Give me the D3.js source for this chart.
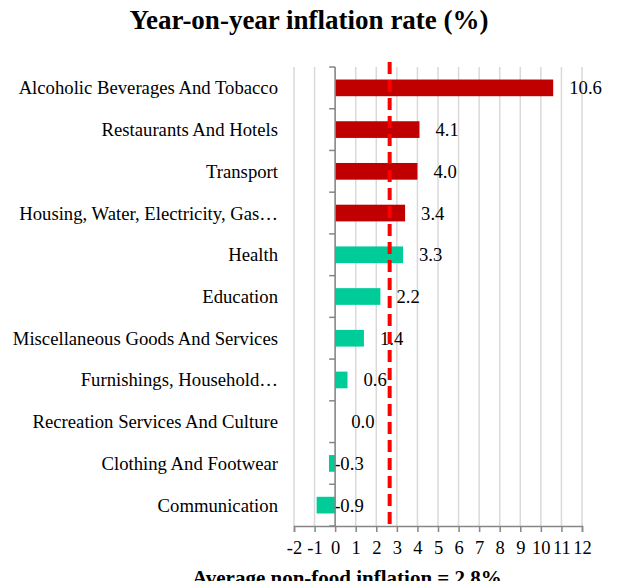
<!DOCTYPE html>
<html>
<head>
<meta charset="utf-8">
<script src="https://cdn.jsdelivr.net/npm/d3@7"></script>
<style>
  body { margin: 0; background: #fff; }
  svg text { font-family: 'Liberation Serif', 'Times New Roman', serif; }
</style>
</head>
<body>
<div id="app"></div>
<script>
// Data
const categories = [
  'Alcoholic Beverages And Tobacco',
  'Restaurants And Hotels',
  'Transport',
  'Housing, Water, Electricity, Gas\u2026',
  'Health',
  'Education',
  'Miscellaneous Goods And Services',
  'Furnishings, Household\u2026',
  'Recreation Services And Culture',
  'Clothing And Footwear',
  'Communication',
];
const values = [10.6, 4.1, 4.0, 3.4, 3.3, 2.2, 1.4, 0.6, 0.0, -0.3, -0.9];
const groups = ['high', 'high', 'high', 'high', 'low', 'low', 'low', 'low', 'low', 'low', 'low'];
const xTicks = [-2, -1, 0, 1, 2, 3, 4, 5, 6, 7, 8, 9, 10, 11, 12];
const averageLine = 2.65; // where the dashed line sits in the picture
const averageLabel = 'Average non-food inflation = 2.8%';

// Constants
const width = 617;
const height = 581;
const margin = ({
  top: 67,
  right: 35,
  bottom: 55,
  left: 294,
});
const plotHeight = height - margin.top - margin.bottom;
const serif = "'Liberation Serif', 'Times New Roman', serif";
const labelSize = '18.7px';

const svg = d3.select('#app')
  .append('svg')
  .attr('width', width)
  .attr('height', height);

const plot = svg.append('g')
  .attr('transform', `translate(${margin.left}, ${margin.top})`);

const xScale = d3.scaleLinear()
  .domain([-2, 12])
  .range([0, 288]);

const yScale = d3.scaleBand()
  .domain(categories)
  .range([0, plotHeight])
  .paddingInner(0.6)
  .paddingOuter(0.3);

const color = d3.scaleOrdinal()
  .domain(['high', 'low'])
  .range(['#C00000', '#00CC99']);

// Gridlines
plot.append('g')
  .selectAll('line')
  .data(xTicks)
  .join('line')
  .attr('x1', (d) => xScale(d))
  .attr('x2', (d) => xScale(d))
  .attr('y1', 0)
  .attr('y2', plotHeight)
  .attr('stroke', '#d9d9d9')
  .attr('stroke-width', 1.5);

// Bars
plot.append('g')
  .selectAll('rect')
  .data(values)
  .join('rect')
  .attr('x', (d) => xScale(Math.min(0, d)))
  .attr('y', (d, i) => yScale(categories[i]))
  .attr('width', (d) => Math.abs(xScale(d) - xScale(0)))
  .attr('height', yScale.bandwidth())
  .attr('fill', (d, i) => color(groups[i]));

// Value labels
plot.append('g')
  .selectAll('text')
  .data(values)
  .join('text')
  .attr('x', (d) => (d < 0 ? xScale(0) - 1 : xScale(d) + 16))
  .attr('y', (d, i) => yScale(categories[i]) + yScale.bandwidth() / 2)
  .attr('dy', '0.35em')
  .style('font-size', labelSize)
  .attr('fill', '#000')
  .text((d) => d.toFixed(1));

// X axis
const xAxis = d3.axisBottom(xScale)
  .tickValues(xTicks)
  .tickSize(6)
  .tickPadding(9)
  .tickFormat((d) => `${d}`);
const gx = plot.append('g')
  .attr('transform', `translate(0, ${plotHeight})`)
  .call(xAxis);
gx.select('.domain').attr('stroke', '#868686').attr('stroke-width', 1.5);
gx.selectAll('.tick line').attr('stroke', '#868686').attr('stroke-width', 1.5);
gx.selectAll('.tick text')
  .attr('font-family', serif)
  .attr('font-size', 18.5)
  .attr('fill', '#000');

// Y axis at zero, ticks between categories
const boundaries = d3.range(categories.length + 1);
const gy = plot.append('g')
  .attr('transform', `translate(${xScale(0)}, 0)`);
gy.append('line')
  .attr('y1', 0)
  .attr('y2', plotHeight)
  .attr('stroke', '#868686')
  .attr('stroke-width', 1.5);
gy.selectAll('.ytick')
  .data(boundaries)
  .join('line')
  .attr('class', 'ytick')
  .attr('x1', -6)
  .attr('x2', 0)
  .attr('y1', (d) => d * (plotHeight / categories.length))
  .attr('y2', (d) => d * (plotHeight / categories.length))
  .attr('stroke', '#868686')
  .attr('stroke-width', 1.5);

// Category labels
svg.append('g')
  .selectAll('text')
  .data(categories)
  .join('text')
  .attr('x', 278)
  .attr('y', (d) => margin.top + yScale(d) + yScale.bandwidth() / 2)
  .attr('dy', '0.35em')
  .attr('text-anchor', 'end')
  .style('font-size', labelSize)
  .text((d) => d);

// Average dashed line
plot.append('line')
  .attr('x1', xScale(averageLine))
  .attr('x2', xScale(averageLine))
  .attr('y1', -5)
  .attr('y2', plotHeight + 4)
  .attr('stroke', '#FF0000')
  .attr('stroke-width', 4)
  .attr('stroke-dasharray', '12 6');

// Title
svg.append('text')
  .attr('x', 309)
  .attr('y', 29)
  .attr('text-anchor', 'middle')
  .style('font-size', '27px')
  .style('font-weight', 'bold')
  .text('Year-on-year inflation rate (%)');

// Bottom label
svg.append('text')
  .attr('x', 347)
  .attr('y', 585)
  .attr('text-anchor', 'middle')
  .style('font-size', '21px')
  .style('font-weight', 'bold')
  .text(averageLabel);
</script>
</body>
</html>
